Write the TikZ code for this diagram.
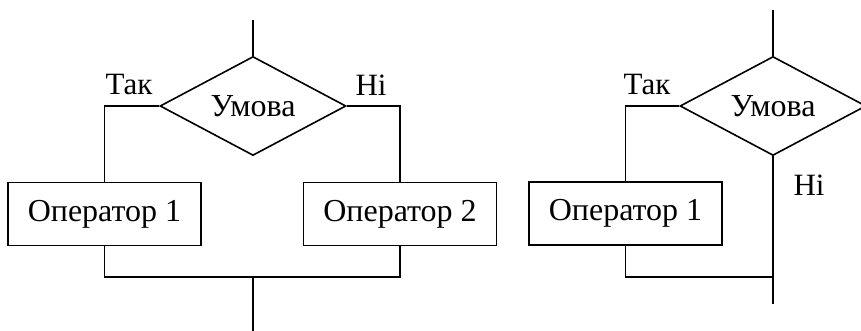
\documentclass[tikz,border=0pt]{standalone}
\usepackage{fontspec}
\setmainfont{Liberation Serif}
\usetikzlibrary{shapes.geometric}
\begin{document}
\begin{tikzpicture}[x=1pt,y=-1pt,line width=1.6pt,
  cond/.style={draw,diamond,aspect=1.88,inner sep=0pt,minimum width=186pt,minimum height=99pt,font=\fontsize{32}{38}\selectfont},
  opbox/.style={draw,rectangle,inner sep=0pt,minimum width=193pt,minimum height=63pt,font=\fontsize{32}{38}\selectfont},
  lbl/.style={inner sep=0pt,font=\fontsize{31}{37}\selectfont}]
\clip (0,0) rectangle (861,331);
\fill[white] (0,0) rectangle (861,331);
% left structure
\coordinate (s1) at (253,20);
\node[cond] (d1) at (253,106) {Умова};
\node[opbox] (b1) at (104.5,214) {Оператор 1};
\node[opbox] (b2) at (400,214) {Оператор 2};
\coordinate (j1) at (253,277);
\coordinate (e1) at (253,335);
\node[lbl] (t1) at (129,85) {Так};
\node[lbl] (n1) at (371,85) {Ні};
\draw (s1) -- (d1.north);
\draw (d1.west) -- (d1.west -| b1.north) -- (b1.north);
\draw (d1.east) -- (d1.east -| b2.north) -- (b2.north);
\draw (b1.south) |- (j1) -| (b2.south);
\draw (j1) -- (e1);
% right structure
\coordinate (s2) at (773,10);
\node[cond] (d2) at (773,106) {Умова};
\node[opbox] (b3) at (625.5,213.5) {Оператор 1};
\coordinate (j2) at (773,277);
\coordinate (e2) at (773,304);
\node[lbl] (t2) at (647,85) {Так};
\node[lbl] (n2) at (809,185) {Ні};
\draw (s2) -- (d2.north);
\draw (d2.west) -- (d2.west -| b3.north) -- (b3.north);
\draw (d2.south) -- (e2);
\draw (b3.south) |- (j2);
\end{tikzpicture}
\end{document}
